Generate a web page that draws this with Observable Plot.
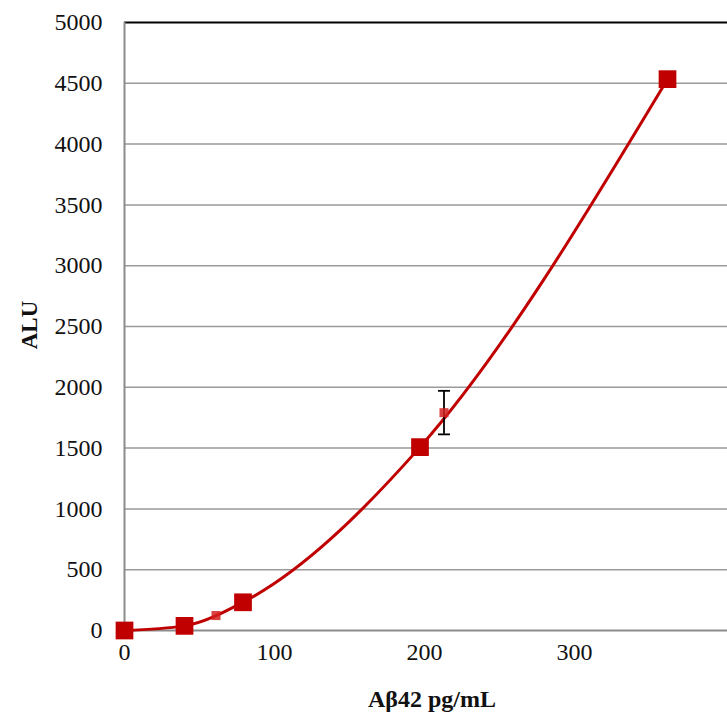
<!DOCTYPE html>
<html><head><meta charset="utf-8">
<script src="https://cdn.jsdelivr.net/npm/d3@7"></script>
<script src="https://cdn.jsdelivr.net/npm/@observablehq/plot@0.6"></script>
<style>body{margin:0;background:#fff} #chart svg text{font-family:"Liberation Serif", serif !important;}</style>
</head><body><div id="chart"></div>
<script>
const stdConc = [0, 40, 79, 197, 362];
const stdALU = [0, 38, 232, 1508, 4534];
const sampleConc = [61, 213];
const sampleALU = [123, 1791];
const sampleErrLow = [null, 1613];
const sampleErrHigh = [null, 1971];
const xTicks = [0, 100, 200, 300];
const yTicks = [0, 500, 1000, 1500, 2000, 2500, 3000, 3500, 4000, 4500, 5000];
const xTitle = "Aβ42 pg/mL";
const yTitle = "ALU";

const standards = stdConc.map((x, i) => ({x, y: stdALU[i]}));
const samples = sampleConc.map((x, i) => ({x, y: sampleALU[i], lo: sampleErrLow[i], hi: sampleErrHigh[i]}));
const errs = samples.filter(d => d.lo != null);
const capSymbol = {draw(ctx, size) { const r = Math.sqrt(size / Math.PI); ctx.moveTo(-r, 0); ctx.lineTo(r, 0); }};

const red = "#C00000";
const serif = "Liberation Serif";
const chart = Plot.plot({
  width: 727, height: 715,
  marginLeft: 124, marginTop: 22, marginBottom: 85, marginRight: 0,
  style: {background: "#fff"},
  x: {domain: [0, 402]},
  y: {domain: [0, 5000]},
  marks: [
    Plot.ruleY(yTicks.filter(v => v > 0 && v < 5000), {stroke: "#9a9a9a", strokeWidth: 1.5}),
    Plot.ruleY([5000], {stroke: "#000", strokeWidth: 2}),
    Plot.ruleX([0], {stroke: "#8c8c8c", strokeWidth: 2}),
    Plot.ruleY([0], {stroke: "#8c8c8c", strokeWidth: 2}),
    Plot.axisY({ticks: yTicks, tickSize: 0, tickPadding: 22, fontSize: 24, label: null, tickFormat: d => String(d), fill: "#111"}),
    Plot.axisX({ticks: xTicks, tickSize: 0, tickPadding: 12, fontSize: 24, label: null, tickFormat: d => String(d), fill: "#111"}),
    Plot.line(standards, {x: "x", y: "y", curve: "monotone-x", stroke: red, strokeWidth: 3}),
    Plot.ruleX(errs, {x: "x", y1: "lo", y2: "hi", stroke: "#000", strokeWidth: 1.8}),
    Plot.dot(errs, {x: "x", y: "lo", symbol: capSymbol, r: 6, stroke: "#000", strokeWidth: 1.8}),
    Plot.dot(errs, {x: "x", y: "hi", symbol: capSymbol, r: 6, stroke: "#000", strokeWidth: 1.8}),
    Plot.dot(samples, {x: "x", y: "y", symbol: "square", r: 5.1, fill: "#d42020", fillOpacity: 0.85, stroke: "none"}),
    Plot.dot(standards, {x: "x", y: "y", symbol: "square", r: 10, fill: red, stroke: "none"})
  ]
});
const svg = d3.select(chart);
svg.append("text").attr("transform", "translate(37,325) rotate(-90)").attr("text-anchor", "middle")
  .attr("font-weight", "bold").attr("font-size", 23).attr("fill", "#111").text(yTitle);
svg.append("text").attr("x", 432).attr("y", 707).attr("text-anchor", "middle")
  .attr("font-weight", "bold").attr("font-size", 24).attr("fill", "#111").text(xTitle);
document.getElementById("chart").appendChild(chart);
</script></body></html>
